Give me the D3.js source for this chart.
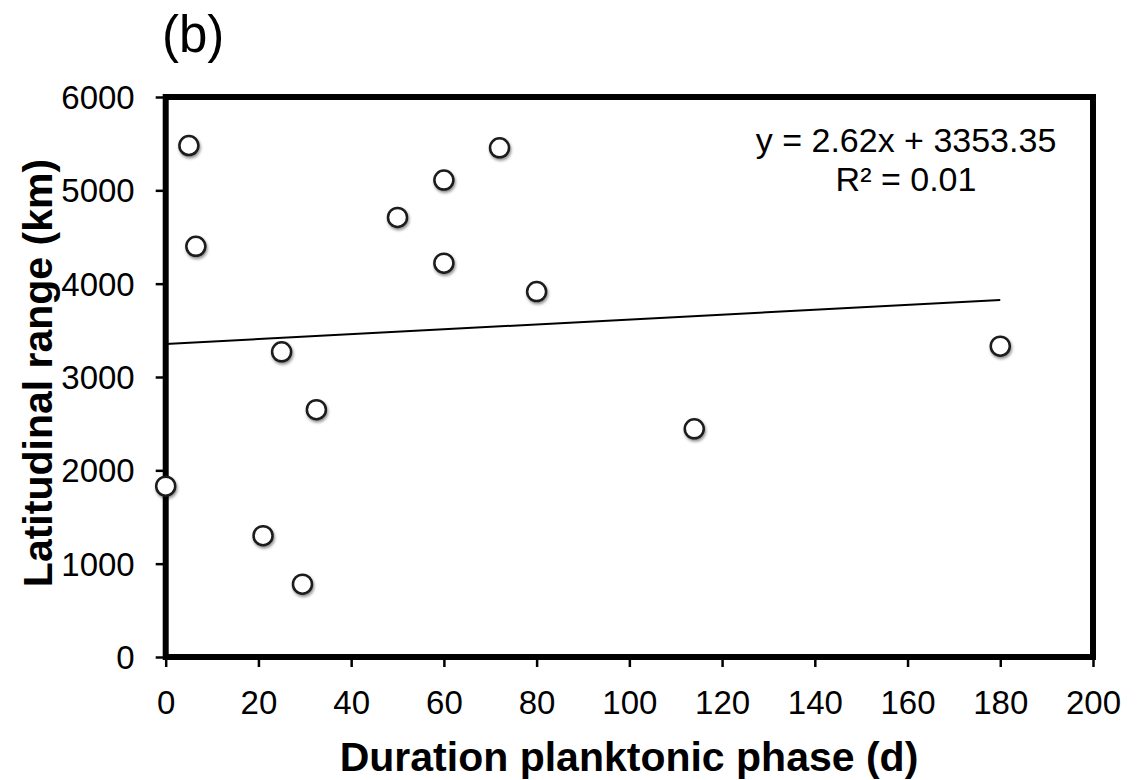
<!DOCTYPE html>
<html>
<head>
<meta charset="utf-8">
<script src="https://cdn.jsdelivr.net/npm/d3@7"></script>
<style>
  body { margin: 0; background: #fff; }
  text { font-family: "Liberation Sans", Arial, sans-serif; fill: #000; }
</style>
</head>
<body>
<div id="chart"></div>
<script>
// Data
const duration = [0, 5, 6.5, 21, 25, 29.5, 32.5, 50, 60, 60, 72, 80, 114, 180];
const latRange = [1830, 5480, 4400, 1300, 3270, 780, 2650, 4710, 5110, 4220, 5455, 3915, 2445, 3330];
const xTicks = [0, 20, 40, 60, 80, 100, 120, 140, 160, 180, 200];
const yTicks = [0, 1000, 2000, 3000, 4000, 5000, 6000];
const fitSlope = 2.62;
const fitIntercept = 3353.35;
const fitSpan = [0, 180];
const eqLines = ["y = 2.62x + 3353.35", "R² = 0.01"];

const svgWidth = 1143;
const svgHeight = 780;

const svg = d3.select("#chart")
    .append("svg")
    .attr("width", svgWidth)
    .attr("height", svgHeight);

const defs = svg.append("defs");
defs.append("filter")
    .attr("id", "shadow")
    .attr("x", "-50%").attr("y", "-50%")
    .attr("width", "200%").attr("height", "200%")
  .append("feDropShadow")
    .attr("dx", 1).attr("dy", 2)
    .attr("stdDeviation", 1.5)
    .attr("flood-color", "#000")
    .attr("flood-opacity", 0.45);

// Scales
const x = d3.scaleLinear().domain([0, 200]).range([165.7, 1093]);
const y = d3.scaleLinear().domain([0, 6000]).range([657, 97]);

// Axes
const xAxis = svg.append("g")
    .attr("transform", `translate(0, ${y(0)})`)
    .call(d3.axisBottom(x).tickValues(xTicks).tickFormat(d3.format("d"))
        .tickSize(10).tickSizeOuter(0));
const yAxis = svg.append("g")
    .attr("transform", `translate(${x(0)}, 0)`)
    .call(d3.axisLeft(y).tickValues(yTicks).tickFormat(d3.format("d"))
        .tickSize(10).tickSizeOuter(0));

[xAxis, yAxis].forEach(g => {
    g.select(".domain").remove();
    g.selectAll(".tick line").attr("stroke", "#000").attr("stroke-width", 2.5);
});

xAxis.selectAll(".tick text")
    .attr("y", 57)
    .attr("dy", null)
    .style("font-size", "33px");

yAxis.selectAll(".tick text")
    .attr("x", -31)
    .attr("dy", "0.35em")
    .style("font-size", "33px");

// Frame
svg.append("rect")
    .attr("x", x(0))
    .attr("y", y(6000))
    .attr("width", x(200) - x(0))
    .attr("height", y(0) - y(6000))
    .attr("fill", "none")
    .attr("stroke", "#000")
    .attr("stroke-width", 6);

// Trend line
svg.append("line")
    .attr("x1", x(fitSpan[0]))
    .attr("y1", y(fitIntercept + fitSlope * fitSpan[0]))
    .attr("x2", x(fitSpan[1]))
    .attr("y2", y(fitIntercept + fitSlope * fitSpan[1]))
    .attr("stroke", "#000")
    .attr("stroke-width", 2);

// Points
svg.append("g")
    .selectAll("circle")
    .data(duration.map((d, i) => ({ d: d, r: latRange[i] })))
    .join("circle")
    .attr("cx", p => x(p.d))
    .attr("cy", p => y(p.r))
    .attr("r", 9.5)
    .attr("fill", "#fff")
    .attr("stroke", "#1a1a1a")
    .attr("stroke-width", 2.5)
    .attr("filter", "url(#shadow)");

// Equation
svg.append("g")
    .attr("transform", "translate(906, 152)")
    .selectAll("text")
    .data(eqLines)
    .join("text")
    .attr("x", 0)
    .attr("y", (d, i) => i * 39)
    .attr("text-anchor", "middle")
    .style("font-size", "34px")
    .text(d => d);

// Panel label
svg.append("text")
    .attr("x", 162)
    .attr("y", 52)
    .style("font-size", "51px")
    .text("(b)");

// Axis titles
svg.append("text")
    .attr("x", 629)
    .attr("y", 771)
    .attr("text-anchor", "middle")
    .style("font-size", "41px")
    .style("font-weight", "bold")
    .text("Duration planktonic phase (d)");

svg.append("text")
    .attr("transform", "translate(52, 373) rotate(-90)")
    .attr("text-anchor", "middle")
    .style("font-size", "41px")
    .style("font-weight", "bold")
    .text("Latitudinal range (km)");
</script>
</body>
</html>
